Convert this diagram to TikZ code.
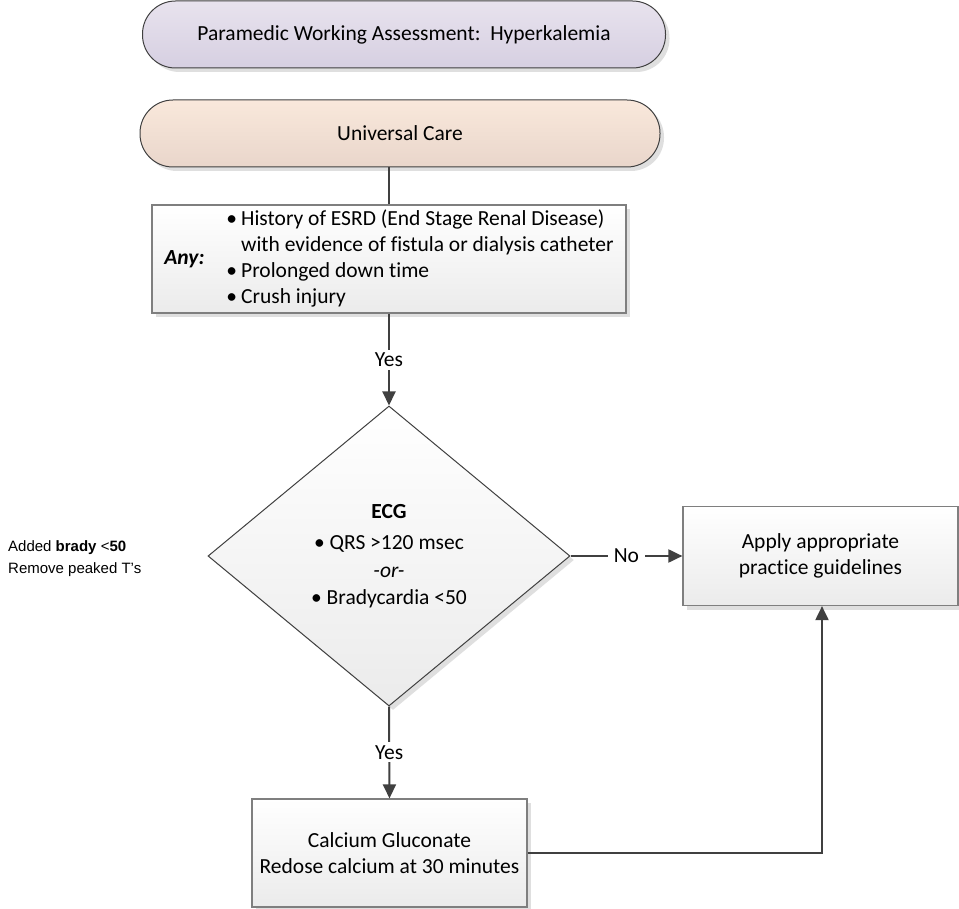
\documentclass[tikz,border=0pt]{standalone}
\usepackage{fontspec}
\setmainfont{Carlito}[Ligatures=NoCommon]
\newfontfamily\arialfont{Liberation Sans}
\usetikzlibrary{arrows.meta,shapes.geometric,shadows}
\definecolor{lineC}{HTML}{404040}
\definecolor{borderC}{HTML}{7F7F7F}
\definecolor{lavTop}{HTML}{E8E3EE}
\definecolor{lavBot}{HTML}{D6CFE1}
\definecolor{peachTop}{HTML}{F9E8DB}
\definecolor{peachBot}{HTML}{E9D6CB}
\definecolor{grayBot}{HTML}{EBEBEB}
\tikzset{
  txt/.style={font=\fontsize{21.5}{26}\selectfont},
  shadowed/.style={drop shadow={shadow xshift=4pt,shadow yshift=-4pt,fill=black!25,opacity=.5}},
  pill/.style={txt, draw=lineC, line width=1pt, rounded corners=33pt, inner sep=0pt, shadowed},
  boxstep/.style={txt, draw=borderC, line width=1.2pt, top color=white, bottom color=grayBot, inner sep=0pt, shadowed, align=center},
  decide/.style={txt, diamond, aspect=1.2, draw=lineC, line width=1pt, top color=white, bottom color=grayBot, inner sep=0pt, shadowed, align=center},
  conn/.style={draw=lineC, line width=2pt},
  arr/.style={conn, -{Triangle[length=14pt,width=13pt]}},
  lbl/.style={txt, fill=white, inner xsep=6pt, inner ysep=3pt},
}
\begin{document}
\begin{tikzpicture}[x=1pt,y=-1pt]
\useasboundingbox (0,0) rectangle (959,909);
\node[pill, top color=lavTop, bottom color=lavBot, minimum width=523pt, minimum height=67pt] (title) at (404,34.5) {Paramedic Working Assessment:\ \ Hyperkalemia};
\node[pill, top color=peachTop, bottom color=peachBot, minimum width=520pt, minimum height=67pt] (uc) at (400,133.5) {Universal Care};
\node[boxstep, minimum width=474pt, minimum height=108pt] (any) at (389,259) {\textbf{\textit{Any:}}\hspace{22pt}\begin{tabular}[c]{@{}l@{}}\textbullet\hspace{4pt}History of ESRD (End Stage Renal Disease)\\\phantom{\textbullet}\hspace{4pt}with evidence of fistula or dialysis catheter\\\textbullet\hspace{4pt}Prolonged down time\\\textbullet\hspace{4pt}Crush injury\end{tabular}};
\node[decide, minimum width=362pt, minimum height=300pt, font=\fontsize{21.5}{27.5}\selectfont] (ecg) at (389,556) {\textbf{ECG}\\[4pt]\textbullet\ QRS >120 msec\\\textit{-or-}\\\textbullet\ Bradycardia <50};
\node[boxstep, minimum width=275pt, minimum height=99pt] (apply) at (820.5,556) {Apply appropriate\\practice guidelines};
\node[boxstep, minimum width=275pt, minimum height=108pt] (calc) at (389.5,853) {Calcium Gluconate\\Redose calcium at 30 minutes};
\node[anchor=north west, align=left, inner sep=0pt, font=\arialfont\fontsize{15}{22}\selectfont] (note) at (8,540) {Added \textbf{brady} <\textbf{50}\\Remove peaked T’s};
% connectors
\draw[conn] (uc.south -| any.north) -- (any.north);
\draw[arr] (any.south -| ecg.north) -- node[lbl] {Yes} (ecg.north);
\draw[arr] (ecg.east) -- node[lbl] {No} (apply.west);
\draw[arr] (ecg.south) -- node[lbl] {Yes} (calc.north);
\coordinate (bend) at (822,853);
\draw[arr] (calc.east) -- (bend) -- (bend |- apply.south);
\end{tikzpicture}
\end{document}
